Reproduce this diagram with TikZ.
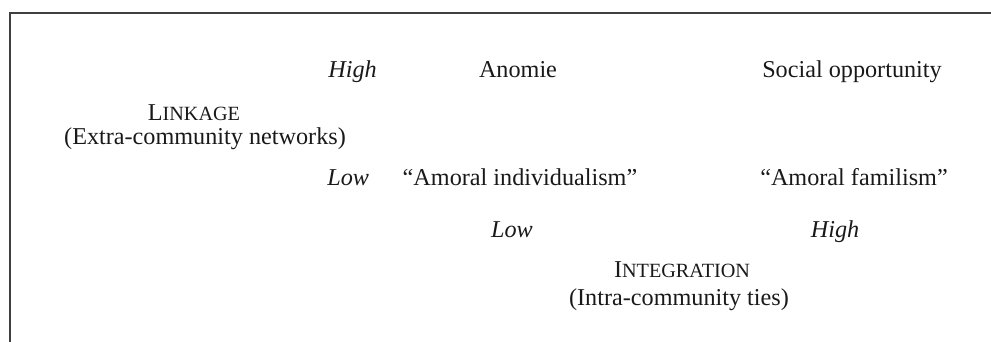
\documentclass[tikz,border=0pt]{standalone}
\usepackage{fontspec}
\setmainfont{Liberation Serif}
\newcommand\scbig{\fontsize{12.1}{15}\selectfont}
\newcommand\scsmall{\fontsize{10.1}{12}\selectfont}
\tikzset{
  lbl/.style={font=\scbig, inner sep=0pt, anchor=base, text=black!90},
  ilbl/.style={lbl, font=\scbig\itshape},
  frame/.style={draw=black!75, line width=1pt}
}
\begin{document}
\begin{tikzpicture}[x=0.5pt, y=-0.5pt]
\useasboundingbox (0,0) rectangle (991,342);
\coordinate (fbl) at (10,342);
\coordinate (fc) at (10,13);
\coordinate (ftr) at (991,13);
\draw[frame] (fbl) -- (fc) -- (ftr);
% top row
\node[ilbl, anchor=base west] (hiL) at (328,78) {High};
\node[lbl] (anomie) at (518,78) {Anomie};
\node[lbl] (socop) at (852,78) {Social opportunity};
% linkage label
\node[lbl] (link) at (194,120) {L\scsmall INKAGE};
\node[lbl] (extra) at (205,145) {(Extra-community networks)};
% bottom row
\node[ilbl, anchor=base west] (loL) at (327,185) {Low};
\node[lbl] (amind) at (520,185) {“Amoral individualism”};
\node[lbl] (amfam) at (854,185) {“Amoral familism”};
% integration axis
\node[ilbl] (loI) at (512,237) {Low};
\node[ilbl] (hiI) at (835,237) {High};
\node[lbl] (integ) at (682,278) {I\scsmall NTEGRATION};
\node[lbl] (intra) at (679,305) {(Intra-community ties)};
\end{tikzpicture}
\end{document}
